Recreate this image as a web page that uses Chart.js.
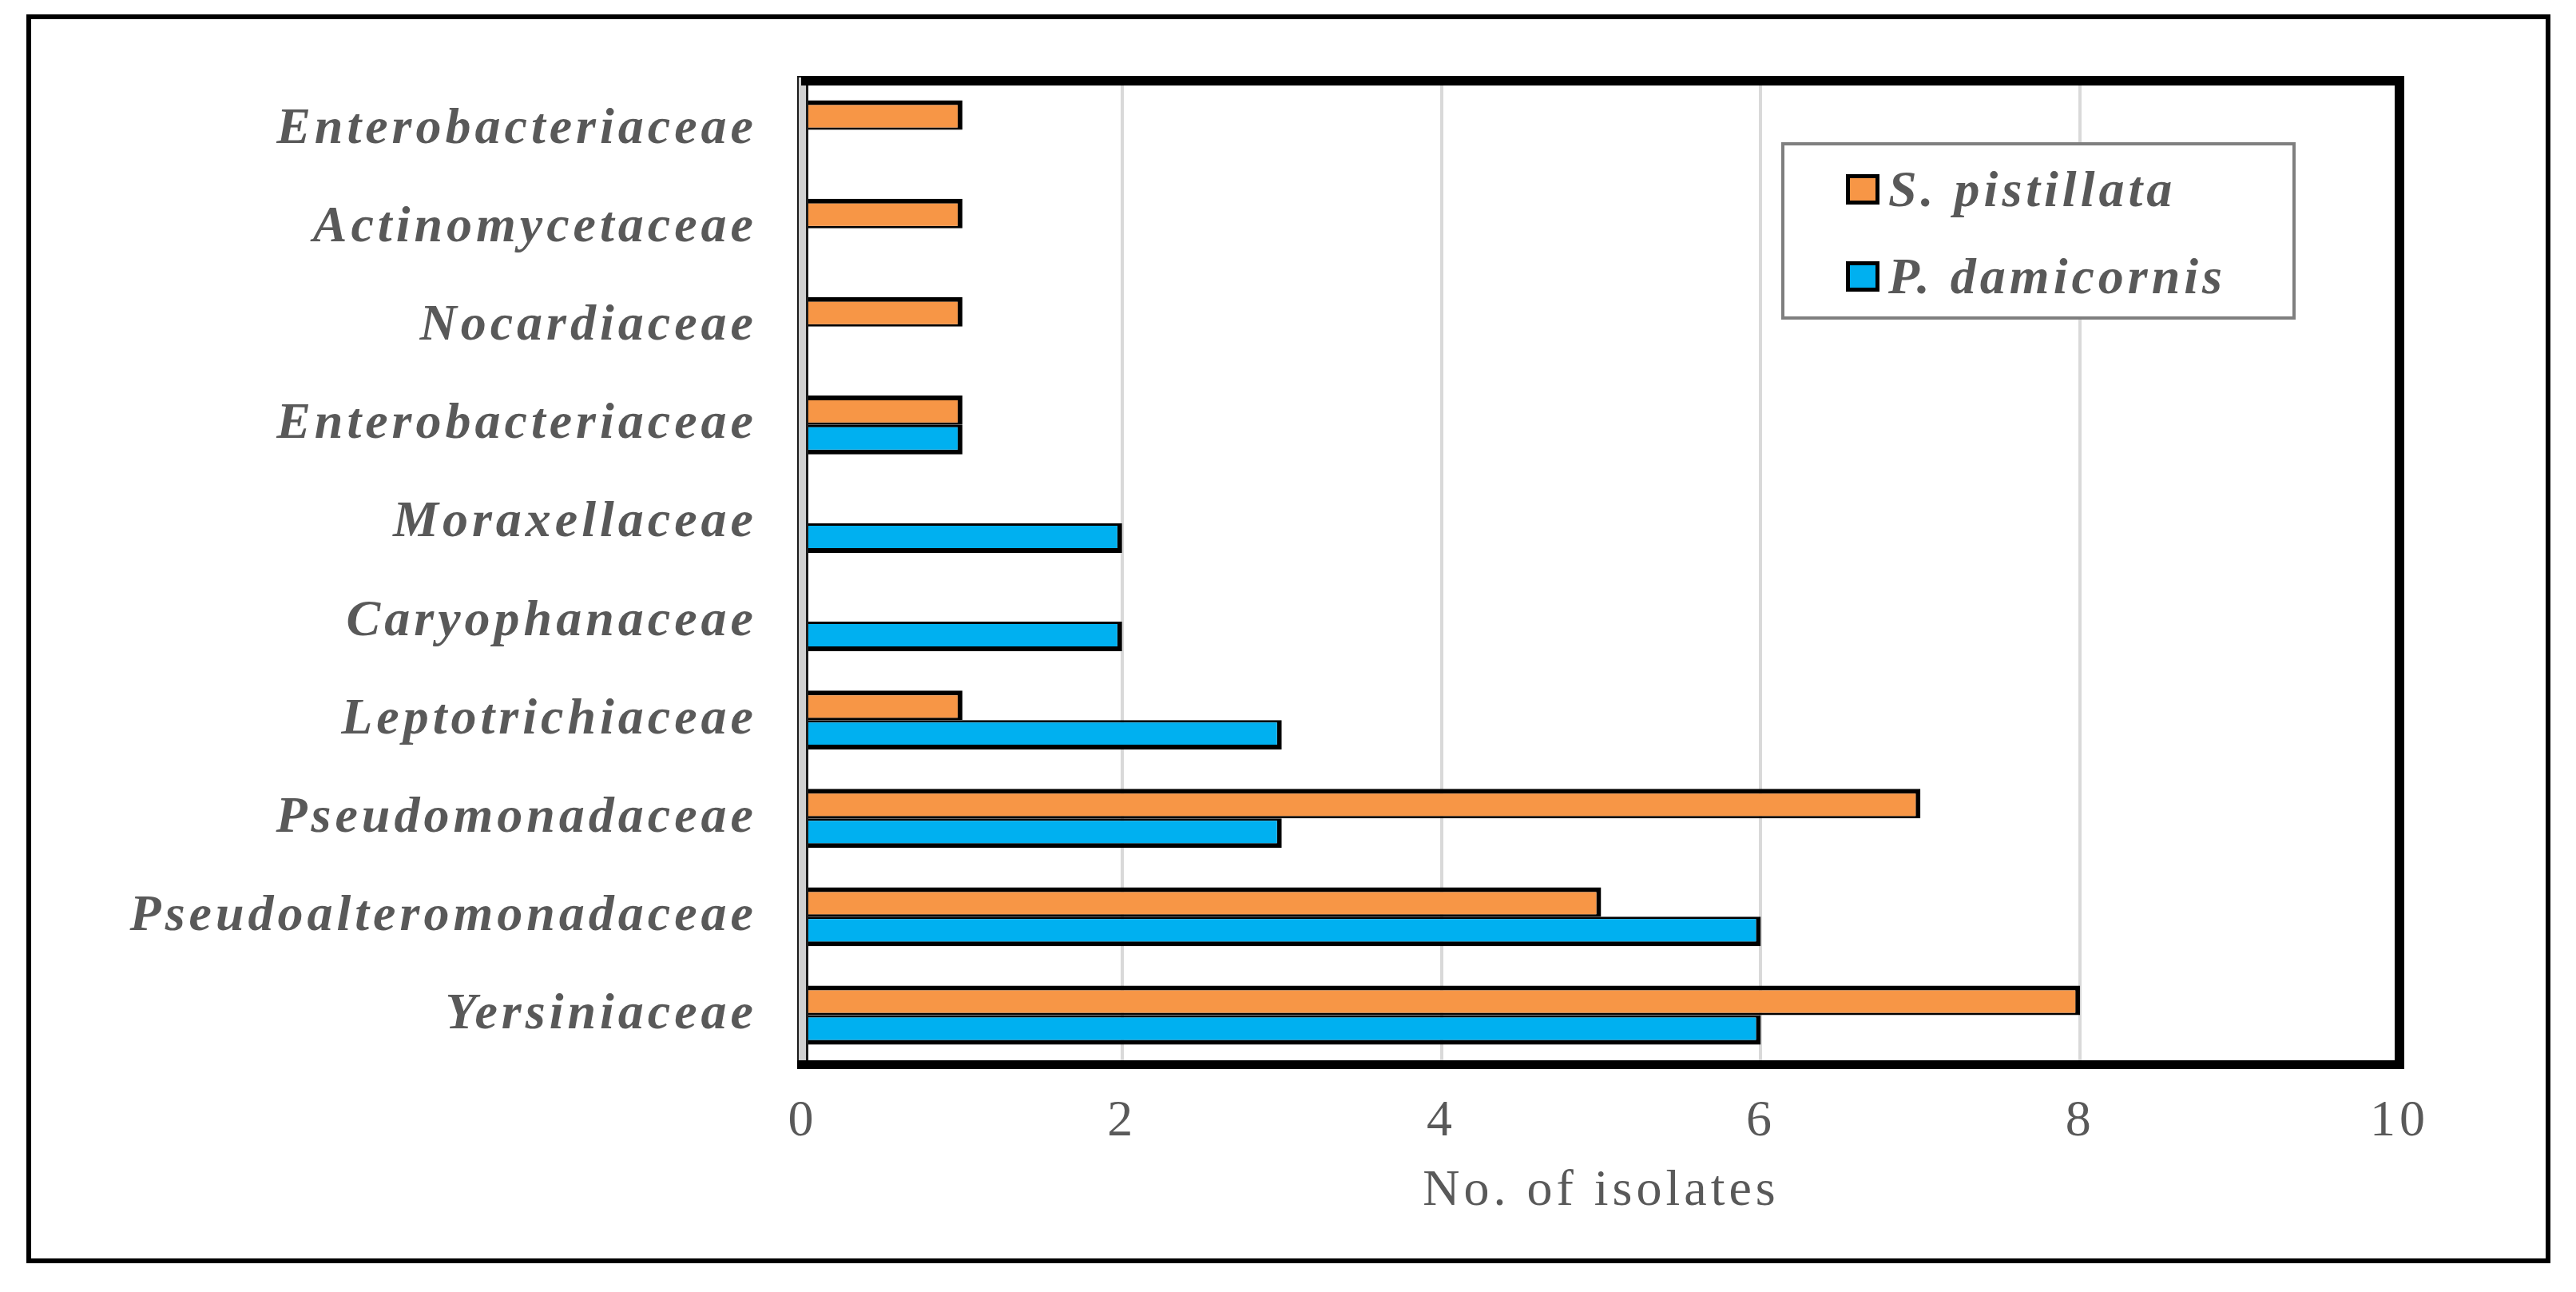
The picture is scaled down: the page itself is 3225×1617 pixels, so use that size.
<!DOCTYPE html>
<html><head><meta charset="utf-8">
<script src="https://cdn.jsdelivr.net/npm/chart.js@4.4.1/dist/chart.umd.min.js"></script>
<style>
html,body{margin:0;padding:0;background:#fff;overflow:hidden}
#wrap{position:absolute;left:0;top:0;width:3225px;height:1617px}
</style>
</head><body><div id="wrap"><canvas id="c"></canvas></div>
<script>
// ---- data ----
const categories = ['Enterobacteriaceae','Actinomycetaceae','Nocardiaceae','Enterobacteriaceae','Moraxellaceae','Caryophanaceae','Leptotrichiaceae','Pseudomonadaceae','Pseudoalteromonadaceae','Yersiniaceae'];
const seriesNames = ['S. pistillata','P. damicornis'];
const sPistillata = [1,1,1,1,0,0,1,7,5,8];
const pDamicornis = [0,0,0,1,2,2,3,3,6,6];
const xTickValues = [0,2,4,6,8,10];
const xTitle = 'No. of isolates';

const TEXT = '#595959';
const FONT = "'Liberation Serif','Times New Roman',serif";

const spacingPlugin = {
  id: 'spacing',
  beforeUpdate(chart){ chart.ctx.letterSpacing = '5px'; },
  beforeDraw(chart){ chart.ctx.letterSpacing = '5px'; }
};

const framePlugin = {
  id: 'frames',
  beforeDraw(chart){
    const ctx = chart.ctx;
    ctx.save();
    ctx.fillStyle = '#fff';
    ctx.fillRect(0,0,chart.width,chart.height);
    ctx.strokeStyle = '#000';
    ctx.lineWidth = 6;
    ctx.strokeRect(36,21,3190-36,1578-21);
    ctx.restore();
  },
  afterDatasetsDraw(chart){
    const ctx = chart.ctx, ca = chart.chartArea;
    ctx.save();
    // left axis line (gray with dark edges)
    ctx.fillStyle = '#1a1a1a';
    ctx.fillRect(ca.left-7, ca.top-6, 14, ca.bottom-ca.top+12);
    ctx.fillStyle = '#d0d0d0';
    ctx.fillRect(ca.left-5, ca.top-4, 9, ca.bottom-ca.top+8);
    // thick black top, right, bottom
    ctx.fillStyle = '#000';
    ctx.fillRect(ca.left-2, ca.top-6, ca.right-ca.left+8, 12);
    ctx.fillRect(ca.right-6, ca.top-6, 12, ca.bottom-ca.top+12);
    ctx.fillRect(ca.left-7, ca.bottom-5, ca.right-ca.left+13, 11);
    ctx.restore();
  },
  afterDraw(chart){
    const ctx = chart.ctx;
    const ds = chart.data.datasets;
    ctx.save();
    ctx.letterSpacing = '5px';
    // legend box
    const bx = 2232, by = 180, bw = 2872-2232, bh = 398-180;
    ctx.fillStyle = '#fff';
    ctx.fillRect(bx,by,bw,bh);
    ctx.strokeStyle = '#7f7f7f';
    ctx.lineWidth = 4;
    ctx.strokeRect(bx,by,bw,bh);
    const rows = [237, 346];
    ds.forEach((d,i)=>{
      const cy = rows[i];
      ctx.fillStyle = '#000';
      ctx.fillRect(2311, cy-19, 42, 38);
      ctx.fillStyle = d.backgroundColor;
      ctx.fillRect(2316, cy-14, 32, 28);
      ctx.fillStyle = TEXT;
      ctx.font = "italic bold 64px " + FONT;
      ctx.textBaseline = 'alphabetic';
      ctx.textAlign = 'left';
      ctx.fillText(d.label, 2364, cy + 21);
    });
    ctx.restore();
  }
};

new Chart(document.getElementById('c'), {
  type: 'bar',
  data: {
    labels: categories,
    datasets: [
      { label: seriesNames[0], data: sPistillata, backgroundColor: '#F79646', borderColor: '#000',
        borderWidth: {top:6, right:6, bottom:3, left:0}, borderSkipped: false,
        categoryPercentage: 0.6, barPercentage: 1.0 },
      { label: seriesNames[1], data: pDamicornis, backgroundColor: '#00B0F0', borderColor: '#000',
        borderWidth: {top:3, right:6, bottom:6, left:0}, borderSkipped: false,
        categoryPercentage: 0.6, barPercentage: 1.0 }
    ]
  },
  options: {
    indexAxis: 'y',
    responsive: true,
    maintainAspectRatio: false,
    animation: false,
    devicePixelRatio: 1,
    layout: { padding: { top: 101, right: 221, bottom: 87, left: 0 } },
    plugins: { legend: { display: false }, tooltip: { enabled: false } },
    scales: {
      x: {
        type: 'linear',
        min: xTickValues[0], max: xTickValues[xTickValues.length-1],
        afterBuildTicks(scale){ scale.ticks = xTickValues.map(v=>({value:v})); },
        afterFit(scale){ scale.height = 198; },
        grid: { color: '#d9d9d9', lineWidth: 4, drawTicks: false },
        border: { display: false },
        ticks: { color: TEXT, font: { family: FONT, size: 64 }, padding: 34 },
        title: { display: true, text: xTitle, color: TEXT, font: { family: FONT, size: 64 }, padding: { top: 0, bottom: 0 } }
      },
      y: {
        type: 'category',
        afterFit(scale){ scale.width = 1005; },
        grid: { display: false, drawTicks: false },
        border: { display: false },
        ticks: { color: TEXT, font: { family: FONT, size: 64, style: 'italic', weight: 'bold' }, padding: 57, autoSkip: false }
      }
    }
  },
  plugins: [spacingPlugin, framePlugin]
});
</script>
</body></html>
